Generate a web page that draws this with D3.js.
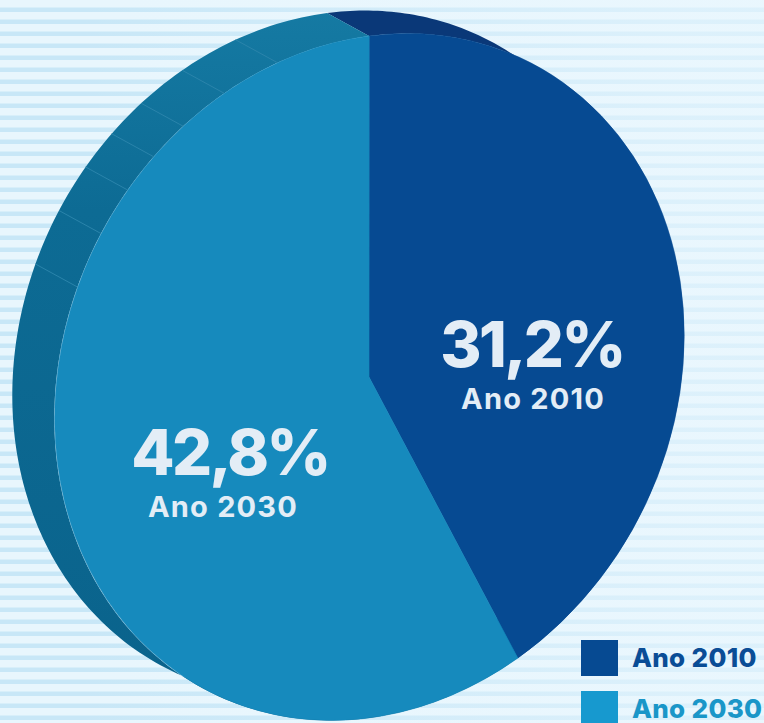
<!DOCTYPE html>
<html>
<head>
<meta charset="utf-8">
<style>
  html, body { margin: 0; padding: 0; background: #e6f5fd; }
  svg { display: block; }
  text { font-family: Inter, "Open Sans", sans-serif; }
</style>
<script src="https://cdn.jsdelivr.net/npm/d3@7/dist/d3.min.js"></script>
</head>
<body>
<svg id="chart" width="764" height="723"></svg>
<script>
const categories = ["Ano 2010", "Ano 2030"];
const shares = [31.2, 42.8];
const shareLabels = ["31,2%", "42,8%"];
// Where the painted dividers fall on the edge of the disc, in degrees.
const rimDividers = [-98.5, -89, -80.7, -73.8, -66.8, -58, -47.5];

const width = 764, height = 723;
const faceColors = ["#064a92", "#168abd"];
const legendColors = ["#064a92", "#1799cf"];
const legendTextColors = ["#0a4d96", "#1a96c8"];

const svg = d3.select("#chart");
const defs = svg.append("defs");

// Horizontal pinstripe background with soft band edges
const stripes = defs.append("pattern")
  .attr("id", "stripes").attr("patternUnits", "userSpaceOnUse")
  .attr("width", 12).attr("height", 12);
stripes.append("rect").attr("width", 12).attr("height", 12).attr("fill", "#e8f6fd");
stripes.append("rect").attr("y", 7).attr("width", 12).attr("height", 6).attr("fill", "#d8effa");
stripes.append("rect").attr("y", 8).attr("width", 12).attr("height", 4).attr("fill", "#c8e7f7");
svg.append("rect").attr("width", width).attr("height", height).attr("fill", "url(#stripes)");

// The stripes fade out towards the right-hand side
const stripeFade = defs.append("linearGradient").attr("id", "stripeFade");
stripeFade.append("stop").attr("offset", 0.1).attr("stop-color", "#eaf7fe").attr("stop-opacity", 0);
stripeFade.append("stop").attr("offset", 0.9).attr("stop-color", "#eaf7fe").attr("stop-opacity", 0.6);
svg.append("rect").attr("width", width).attr("height", height).attr("fill", "url(#stripeFade)");

// Edge of the disc darkens towards the bottom
const rimShade = defs.append("linearGradient")
  .attr("id", "rimShade").attr("gradientUnits", "userSpaceOnUse")
  .attr("x1", 0).attr("y1", 10).attr("x2", 0).attr("y2", 680);
rimShade.append("stop").attr("offset", 0).attr("stop-color", "#157aa3");
rimShade.append("stop").attr("offset", 0.3).attr("stop-color", "#0d6b94");
rimShade.append("stop").attr("offset", 1).attr("stop-color", "#0a638c");
const rimColors = ["#0a3878", "url(#rimShade)"];

// The disc is a unit circle tilted and squeezed into an ellipse.
const cx = 369, cy = 377, semiMinor = 304, semiMajor = 353, tilt = 27;
const depth = [-42, -23];
const startAngle = -30.6 * Math.PI / 180;

const pie = d3.pie().sort(null).startAngle(startAngle).endAngle(startAngle + 2 * Math.PI);
const arcs = pie(shares);
const unitArc = d3.arc().innerRadius(0).outerRadius(1);

const tiltRad = tilt * Math.PI / 180;
const project = (angle, dx = 0, dy = 0) => {
  const u = semiMinor * Math.sin(angle), v = -semiMajor * Math.cos(angle);
  return [cx + dx + u * Math.cos(tiltRad) - v * Math.sin(tiltRad),
          cy + dy + u * Math.sin(tiltRad) + v * Math.cos(tiltRad)];
};

// Edge of each slice: back outline followed by the front outline reversed.
const rimPath = d3.line();
arcs.forEach((a, i) => {
  const steps = d3.range(0, 181).map(k => a.startAngle + (a.endAngle - a.startAngle) * k / 180);
  const back = steps.map(t => project(t, depth[0], depth[1]));
  const front = steps.slice().reverse().map(t => project(t));
  svg.append("path").attr("d", rimPath(back.concat(front)) + "Z").attr("fill", rimColors[i]);
});

// Dividers painted on the edge
svg.append("g").selectAll("line").data(rimDividers).join("line")
  .each(function (deg) {
    const t = deg * Math.PI / 180;
    const [x1, y1] = project(t), [x2, y2] = project(t, depth[0], depth[1]);
    d3.select(this).attr("x1", x1).attr("y1", y1).attr("x2", x2).attr("y2", y2);
  })
  .attr("stroke", "#2a84ab").attr("stroke-width", 1);

// Front face
svg.append("g")
  .attr("transform", `translate(${cx},${cy}) rotate(${tilt}) scale(${semiMinor},${semiMajor})`)
  .selectAll("path").data(arcs).join("path")
  .attr("d", unitArc)
  .attr("fill", (d, i) => faceColors[i])
  .attr("stroke", (d, i) => faceColors[i])
  .attr("stroke-width", 0.6)
  .attr("vector-effect", "non-scaling-stroke");

// Value labels on the slices
const labelSpots = [[532, 367, 533, 409], [230, 475, 223, 517]];
shareLabels.forEach((label, i) => {
  const s = labelSpots[i];
  svg.append("text").attr("x", s[0]).attr("y", s[1]).attr("text-anchor", "middle")
    .attr("font-size", 63).attr("font-weight", 800).attr("letter-spacing", -2.6)
    .attr("fill", "#e3edf6").text(label);
  svg.append("text").attr("x", s[2]).attr("y", s[3]).attr("text-anchor", "middle")
    .attr("font-size", 29).attr("font-weight", 700).attr("letter-spacing", 1.2)
    .attr("fill", "#e3edf6").text(categories[i]);
});

// Legend
const legend = svg.append("g").selectAll("g").data(categories).join("g")
  .attr("transform", (d, i) => `translate(581,${640 + i * 51})`);
legend.append("rect").attr("width", 37).attr("height", 36).attr("fill", (d, i) => legendColors[i]);
legend.append("text").attr("x", 51).attr("y", 27).attr("font-size", 26).attr("font-weight", 800)
  .attr("letter-spacing", 0.3)
  .attr("fill", (d, i) => legendTextColors[i]).text(d => d);
</script>
</body>
</html>
